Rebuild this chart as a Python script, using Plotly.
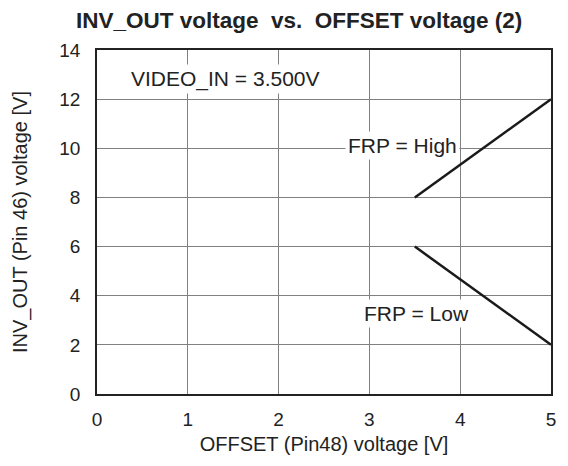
import plotly.graph_objects as go

# Data
offset_high = [3.5, 5.0]
inv_out_high = [8.0, 12.0]
offset_low = [3.5, 5.0]
inv_out_low = [6.0, 2.0]
x_ticks = [0, 1, 2, 3, 4, 5]
y_ticks = [0, 2, 4, 6, 8, 10, 12, 14]

FONT = "Liberation Sans, Arial, sans-serif"

fig = go.Figure()
fig.add_trace(go.Scatter(x=offset_high, y=inv_out_high, mode="lines",
                         line=dict(color="#1a1a1a", width=2.5), showlegend=False))
fig.add_trace(go.Scatter(x=offset_low, y=inv_out_low, mode="lines",
                         line=dict(color="#1a1a1a", width=2.5), showlegend=False))

ann_font = dict(family=FONT, size=21, color="#222")
fig.add_annotation(x=1.41, y=12.8, text="VIDEO_IN = 3.500V", showarrow=False,
                   font=ann_font, bgcolor="white", borderpad=2)
fig.add_annotation(x=3.36, y=10.1, text="FRP = High", showarrow=False,
                   font=ann_font, bgcolor="white", borderpad=2)
fig.add_annotation(x=3.52, y=3.27, text="FRP = Low", showarrow=False,
                   font=ann_font, bgcolor="white", borderpad=2)

fig.update_layout(
    width=560, height=458,
    margin=dict(l=89, r=17, t=42, b=72),
    paper_bgcolor="white", plot_bgcolor="white",
    font=dict(family=FONT, size=19, color="#222"),
    title=dict(text="<b>INV_OUT voltage\u00a0 vs.\u00a0 OFFSET voltage (2)</b>",
               x=0.52, xanchor="center", y=0.974, yanchor="middle",
               font=dict(family=FONT, size=22.5, color="#222")),
    xaxis=dict(range=[0, 5], tickvals=x_ticks, showgrid=True, gridcolor="#808080",
               gridwidth=1, zeroline=False, showline=True, linecolor="#222",
               linewidth=1.5, mirror=True, ticks="outside", ticklen=7,
               tickcolor="rgba(0,0,0,0)",
               title=dict(text="OFFSET (Pin48) voltage [V]", standoff=8,
                          font=dict(size=20))),
    yaxis=dict(range=[0, 14], tickvals=y_ticks, showgrid=True, gridcolor="#808080",
               gridwidth=1, zeroline=False, showline=True, linecolor="#222",
               linewidth=1.5, mirror=True, ticks="outside", ticklen=11,
               tickcolor="rgba(0,0,0,0)",
               title=dict(text="INV_OUT (Pin 46) voltage [V]", standoff=26,
                          font=dict(size=20))),
)

fig.write_html("out.html")
